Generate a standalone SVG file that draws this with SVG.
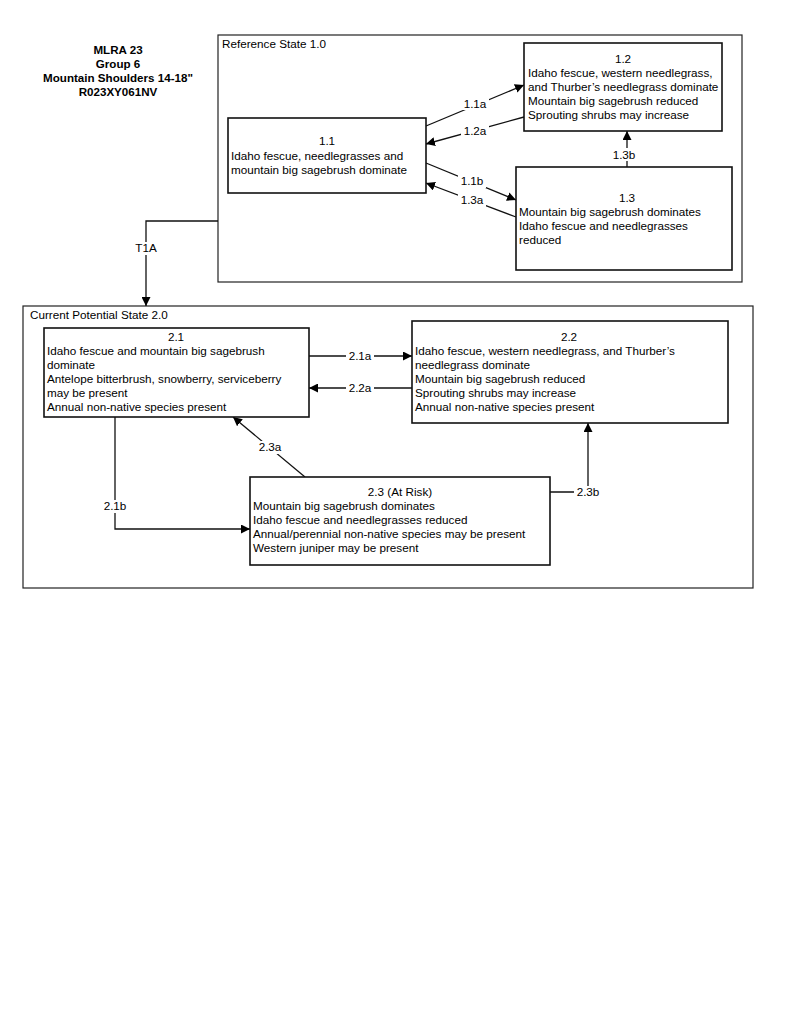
<svg xmlns="http://www.w3.org/2000/svg" width="800" height="1036" viewBox="0 0 800 1036">
<style>
text{font-family:"Liberation Sans",Arial,sans-serif;font-size:11.7px;fill:#000}
.t{font-weight:bold;text-anchor:middle;font-size:11.6px}
.c{text-anchor:middle}
.state{fill:none;stroke:#222;stroke-width:1.2}
.box{fill:#fff;stroke:#111;stroke-width:1.6}
.ln{fill:none;stroke:#111;stroke-width:1.3}
.bg{fill:#fff}
</style>
<defs>
<marker id="ah" viewBox="0 0 10 10" refX="10" refY="5" markerWidth="9" markerHeight="9" markerUnits="userSpaceOnUse" orient="auto">
<path d="M0,0 L10,5 L0,10 z" fill="#000"/>
</marker>
</defs>
<rect width="800" height="1036" fill="#fff"/>
<g id="title">
<text class="t" x="118" y="54">MLRA 23</text>
<text class="t" x="118" y="68">Group 6</text>
<text class="t" x="118" y="82">Mountain Shoulders 14-18"</text>
<text class="t" x="118" y="96">R023XY061NV</text>
</g>
<g id="state1">
<rect class="state" x="218" y="35" width="524" height="247"/>
<text x="222" y="48">Reference State 1.0</text>
</g>
<g id="state2">
<rect class="state" x="23" y="306" width="730" height="282"/>
<text x="30" y="319">Current Potential State 2.0</text>
</g>
<g id="connectors">
<line class="ln" x1="426" y1="126" x2="524" y2="85" marker-end="url(#ah)"/>
<line class="ln" x1="524" y1="117" x2="426" y2="144" marker-end="url(#ah)"/>
<line class="ln" x1="426" y1="163" x2="516" y2="200" marker-end="url(#ah)"/>
<line class="ln" x1="516" y1="217" x2="426" y2="183" marker-end="url(#ah)"/>
<line class="ln" x1="627" y1="167" x2="627" y2="131" marker-end="url(#ah)"/>
<polyline class="ln" points="218,221 146,221 146,306" marker-end="url(#ah)"/>
<line class="ln" x1="309" y1="356" x2="412" y2="356" marker-end="url(#ah)"/>
<line class="ln" x1="412" y1="388" x2="309" y2="388" marker-end="url(#ah)"/>
<line class="ln" x1="305" y1="477" x2="233" y2="417" marker-end="url(#ah)"/>
<polyline class="ln" points="115,417 115,529 250,529" marker-end="url(#ah)"/>
<polyline class="ln" points="550,492 588,492 588,423" marker-end="url(#ah)"/>
<rect class="bg" x="461" y="97" width="28" height="13"/>
<text class="c" x="475" y="108">1.1a</text>
<rect class="bg" x="461" y="124" width="28" height="13"/>
<text class="c" x="475" y="135">1.2a</text>
<rect class="bg" x="458" y="175" width="28" height="13"/>
<text class="c" x="472" y="185">1.1b</text>
<rect class="bg" x="458" y="194" width="28" height="13"/>
<text class="c" x="472" y="204">1.3a</text>
<rect class="bg" x="611" y="148" width="26" height="13"/>
<text class="c" x="624" y="159">1.3b</text>
<rect class="bg" x="132" y="242" width="28" height="13"/>
<text class="c" x="146" y="252">T1A</text>
<rect class="bg" x="346" y="350" width="28" height="13"/>
<text class="c" x="360" y="360">2.1a</text>
<rect class="bg" x="346" y="382" width="28" height="13"/>
<text class="c" x="360" y="392">2.2a</text>
<rect class="bg" x="256" y="441" width="28" height="13"/>
<text class="c" x="270" y="451">2.3a</text>
<rect class="bg" x="101" y="500" width="28" height="13"/>
<text class="c" x="115" y="510">2.1b</text>
<rect class="bg" x="574" y="486" width="28" height="13"/>
<text class="c" x="588" y="496">2.3b</text>
</g>
<g id="n11">
<rect class="box" x="228" y="118" width="198" height="75"/>
<text class="c" x="327" y="145">1.1</text>
<text x="231" y="160">Idaho fescue, needlegrasses and</text>
<text x="231" y="174">mountain big sagebrush dominate</text>
</g>
<g id="n12">
<rect class="box" x="524" y="43" width="198" height="88"/>
<text class="c" x="623" y="63">1.2</text>
<text x="528" y="77">Idaho fescue, western needlegrass,</text>
<text x="528" y="91">and Thurber’s needlegrass dominate</text>
<text x="528" y="105">Mountain big sagebrush reduced</text>
<text x="528" y="119">Sprouting shrubs may increase</text>
</g>
<g id="n13">
<rect class="box" x="516" y="167" width="216" height="103"/>
<text class="c" x="627" y="202">1.3</text>
<text x="519" y="216">Mountain big sagebrush dominates</text>
<text x="519" y="230">Idaho fescue and needlegrasses</text>
<text x="519" y="244">reduced</text>
</g>
<g id="n21">
<rect class="box" x="44" y="328" width="265" height="89"/>
<text class="c" x="176" y="341">2.1</text>
<text x="47" y="355">Idaho fescue and mountain big sagebrush</text>
<text x="47" y="369">dominate</text>
<text x="47" y="383">Antelope bitterbrush, snowberry, serviceberry</text>
<text x="47" y="397">may be present</text>
<text x="47" y="411">Annual non-native species present</text>
</g>
<g id="n22">
<rect class="box" x="412" y="321" width="316" height="102"/>
<text class="c" x="569" y="341">2.2</text>
<text x="415" y="355">Idaho fescue, western needlegrass, and Thurber’s</text>
<text x="415" y="369">needlegrass dominate</text>
<text x="415" y="383">Mountain big sagebrush reduced</text>
<text x="415" y="397">Sprouting shrubs may increase</text>
<text x="415" y="411">Annual non-native species present</text>
</g>
<g id="n23">
<rect class="box" x="250" y="477" width="300" height="88"/>
<text class="c" x="400" y="496">2.3 (At Risk)</text>
<text x="253" y="510">Mountain big sagebrush dominates</text>
<text x="253" y="524">Idaho fescue and needlegrasses reduced</text>
<text x="253" y="538">Annual/perennial non-native species may be present</text>
<text x="253" y="552">Western juniper may be present</text>
</g>
</svg>
